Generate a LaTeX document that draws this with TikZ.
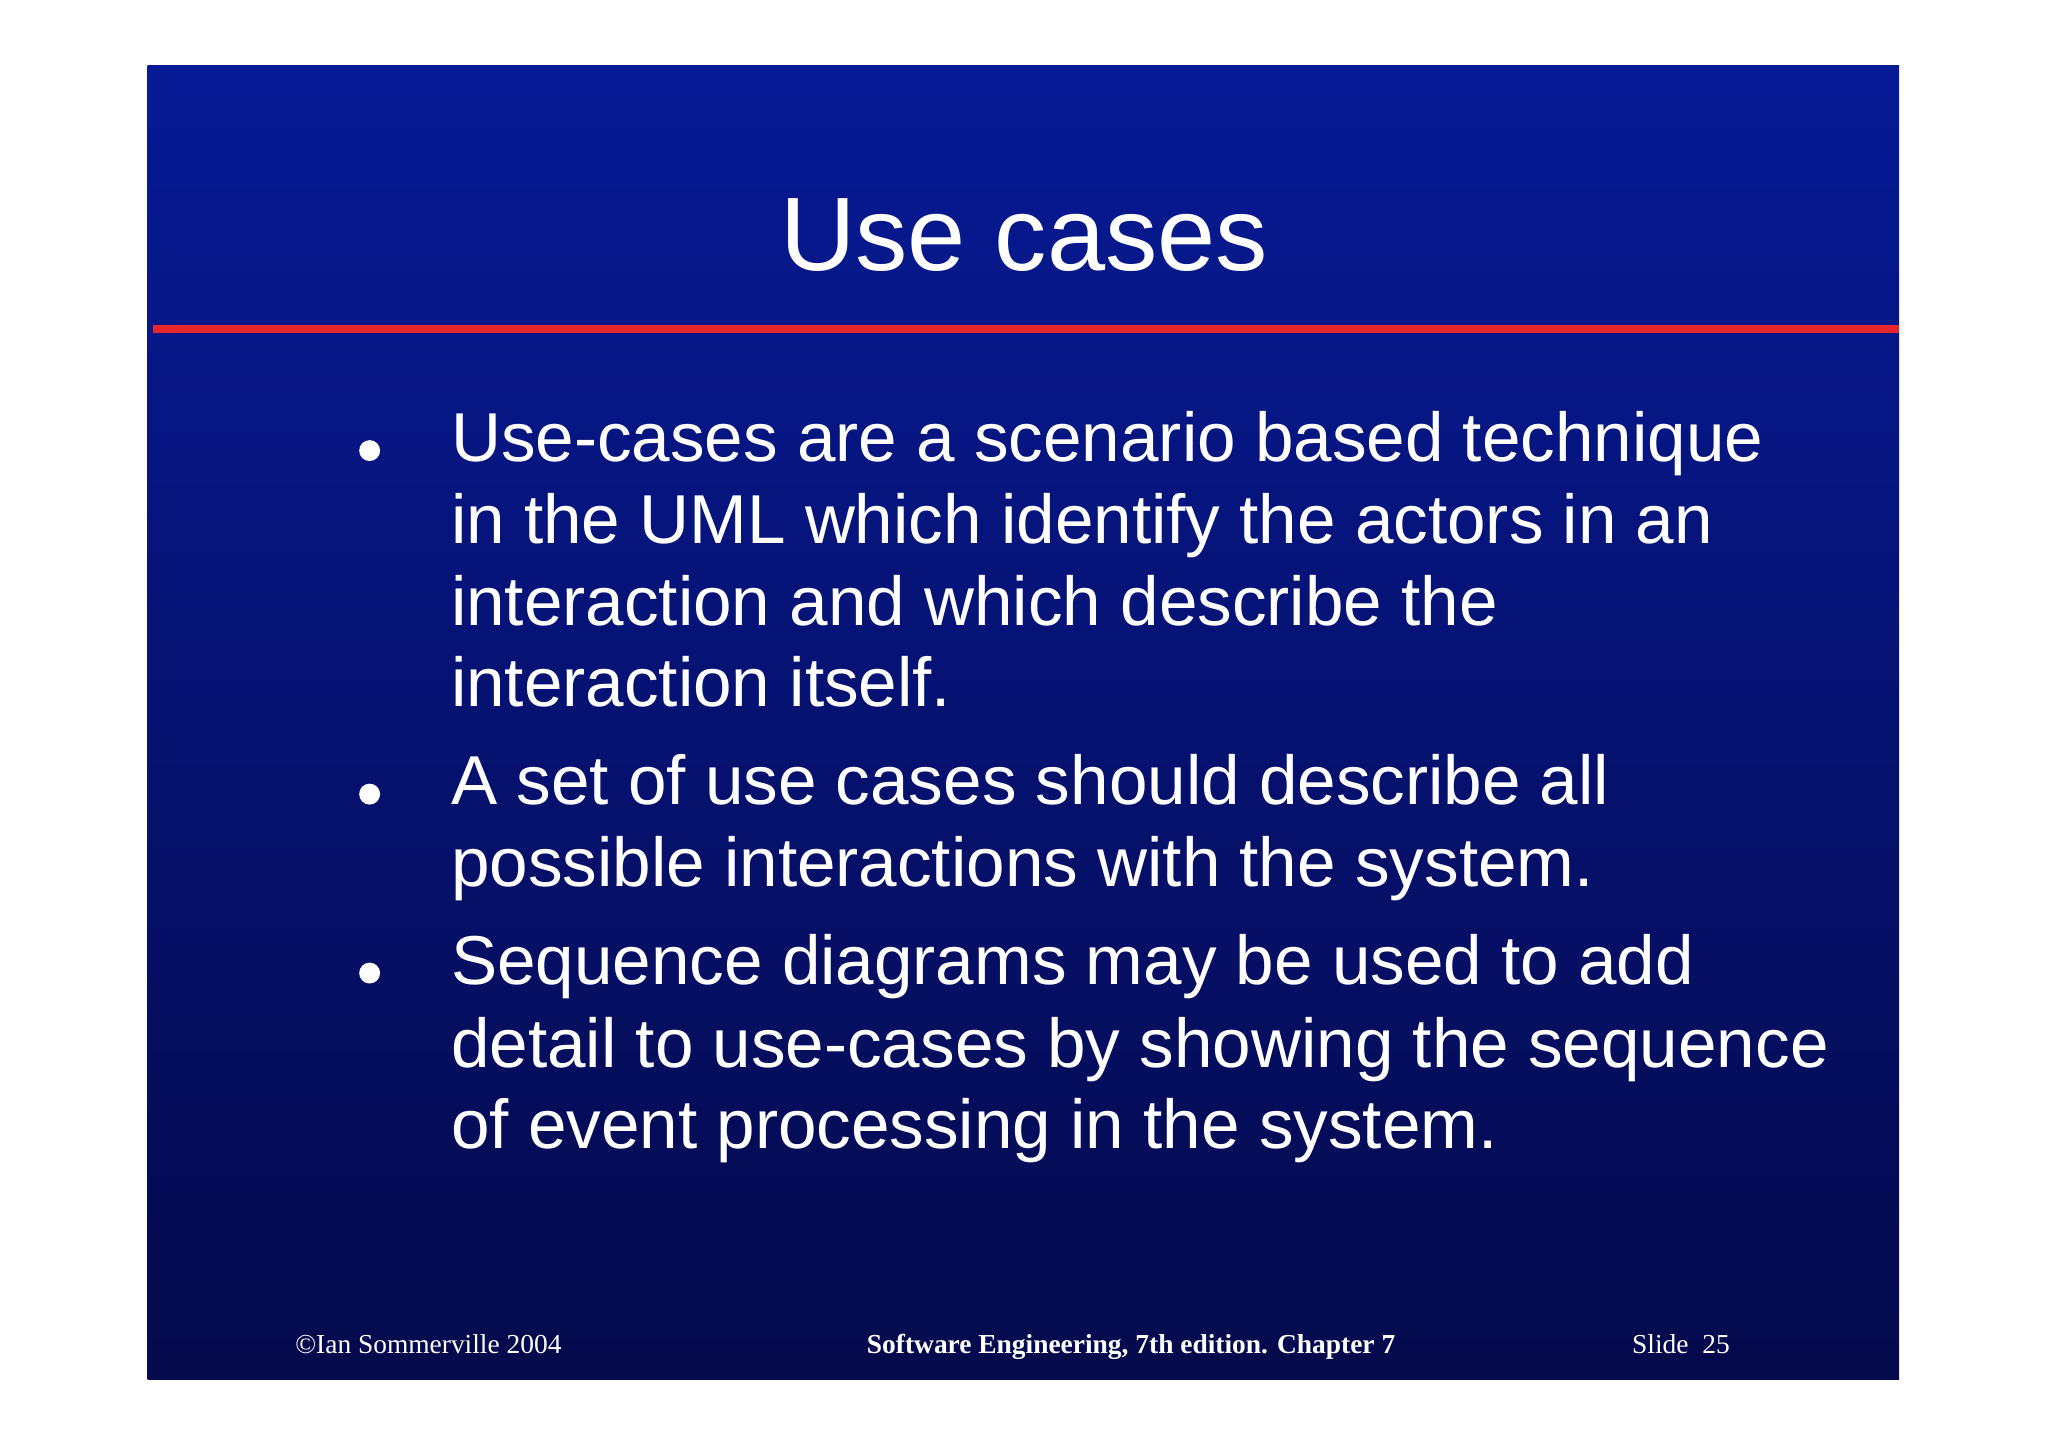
\documentclass[tikz,border=0pt]{standalone}
\usepackage{fontspec}
\setmainfont{Liberation Sans}
\newfontfamily\serifft{Liberation Serif}
\definecolor{topblue}{HTML}{071A96}
\definecolor{botblue}{HTML}{050A4C}
\definecolor{redline}{HTML}{E8262E}
\begin{document}
\begin{tikzpicture}[x=0.5pt,y=-0.5pt,
  body/.style={anchor=base west,text=white,inner sep=0pt,font=\fontsize{26.5}{30}\selectfont},
  foot/.style={anchor=base,text=white,inner sep=0pt,font=\serifft\fontsize{10.5}{12}\selectfont}]
\useasboundingbox[fill=white] (0,0) rectangle (1568,1108);
\shade[top color=topblue,bottom color=botblue] (113,50) rectangle (1454,1056);
\fill[redline] (117,249) rectangle (1454,255);
\node[anchor=base,text=white,inner sep=0pt,font=\fontsize{40}{44}\selectfont] (title) at (784,207) {Use cases};
\foreach \y in {345,608,745} \fill[white] (283,\y) circle (8);
\node[body] (l1) at (345,353) {Use-cases are a scenario based technique};
\node[body] (l2) at (345,416) {in the UML which identify the actors in an};
\node[body] (l3) at (345,479) {interaction and which describe the};
\node[body] (l4) at (345,541) {interaction itself.};
\node[body] (l5) at (345,616) {A set of use cases should describe all};
\node[body] (l6) at (345,679) {possible interactions with the system.};
\node[body] (l7) at (345,754) {Sequence diagrams may be used to add};
\node[body] (l8) at (345,817) {detail to use-cases by showing the sequence};
\node[body] (l9) at (345,879) {of event processing in the system.};
\node[foot] (f1) at (328,1036) {\textcopyright Ian Sommerville 2004};
\node[foot,font=\serifft\bfseries\fontsize{10.5}{12}\selectfont] (f2) at (866,1036) {Software Engineering, 7th edition. Chapter 7};
\node[foot] (f3) at (1287,1036) {Slide~~25};
\end{tikzpicture}
\end{document}
